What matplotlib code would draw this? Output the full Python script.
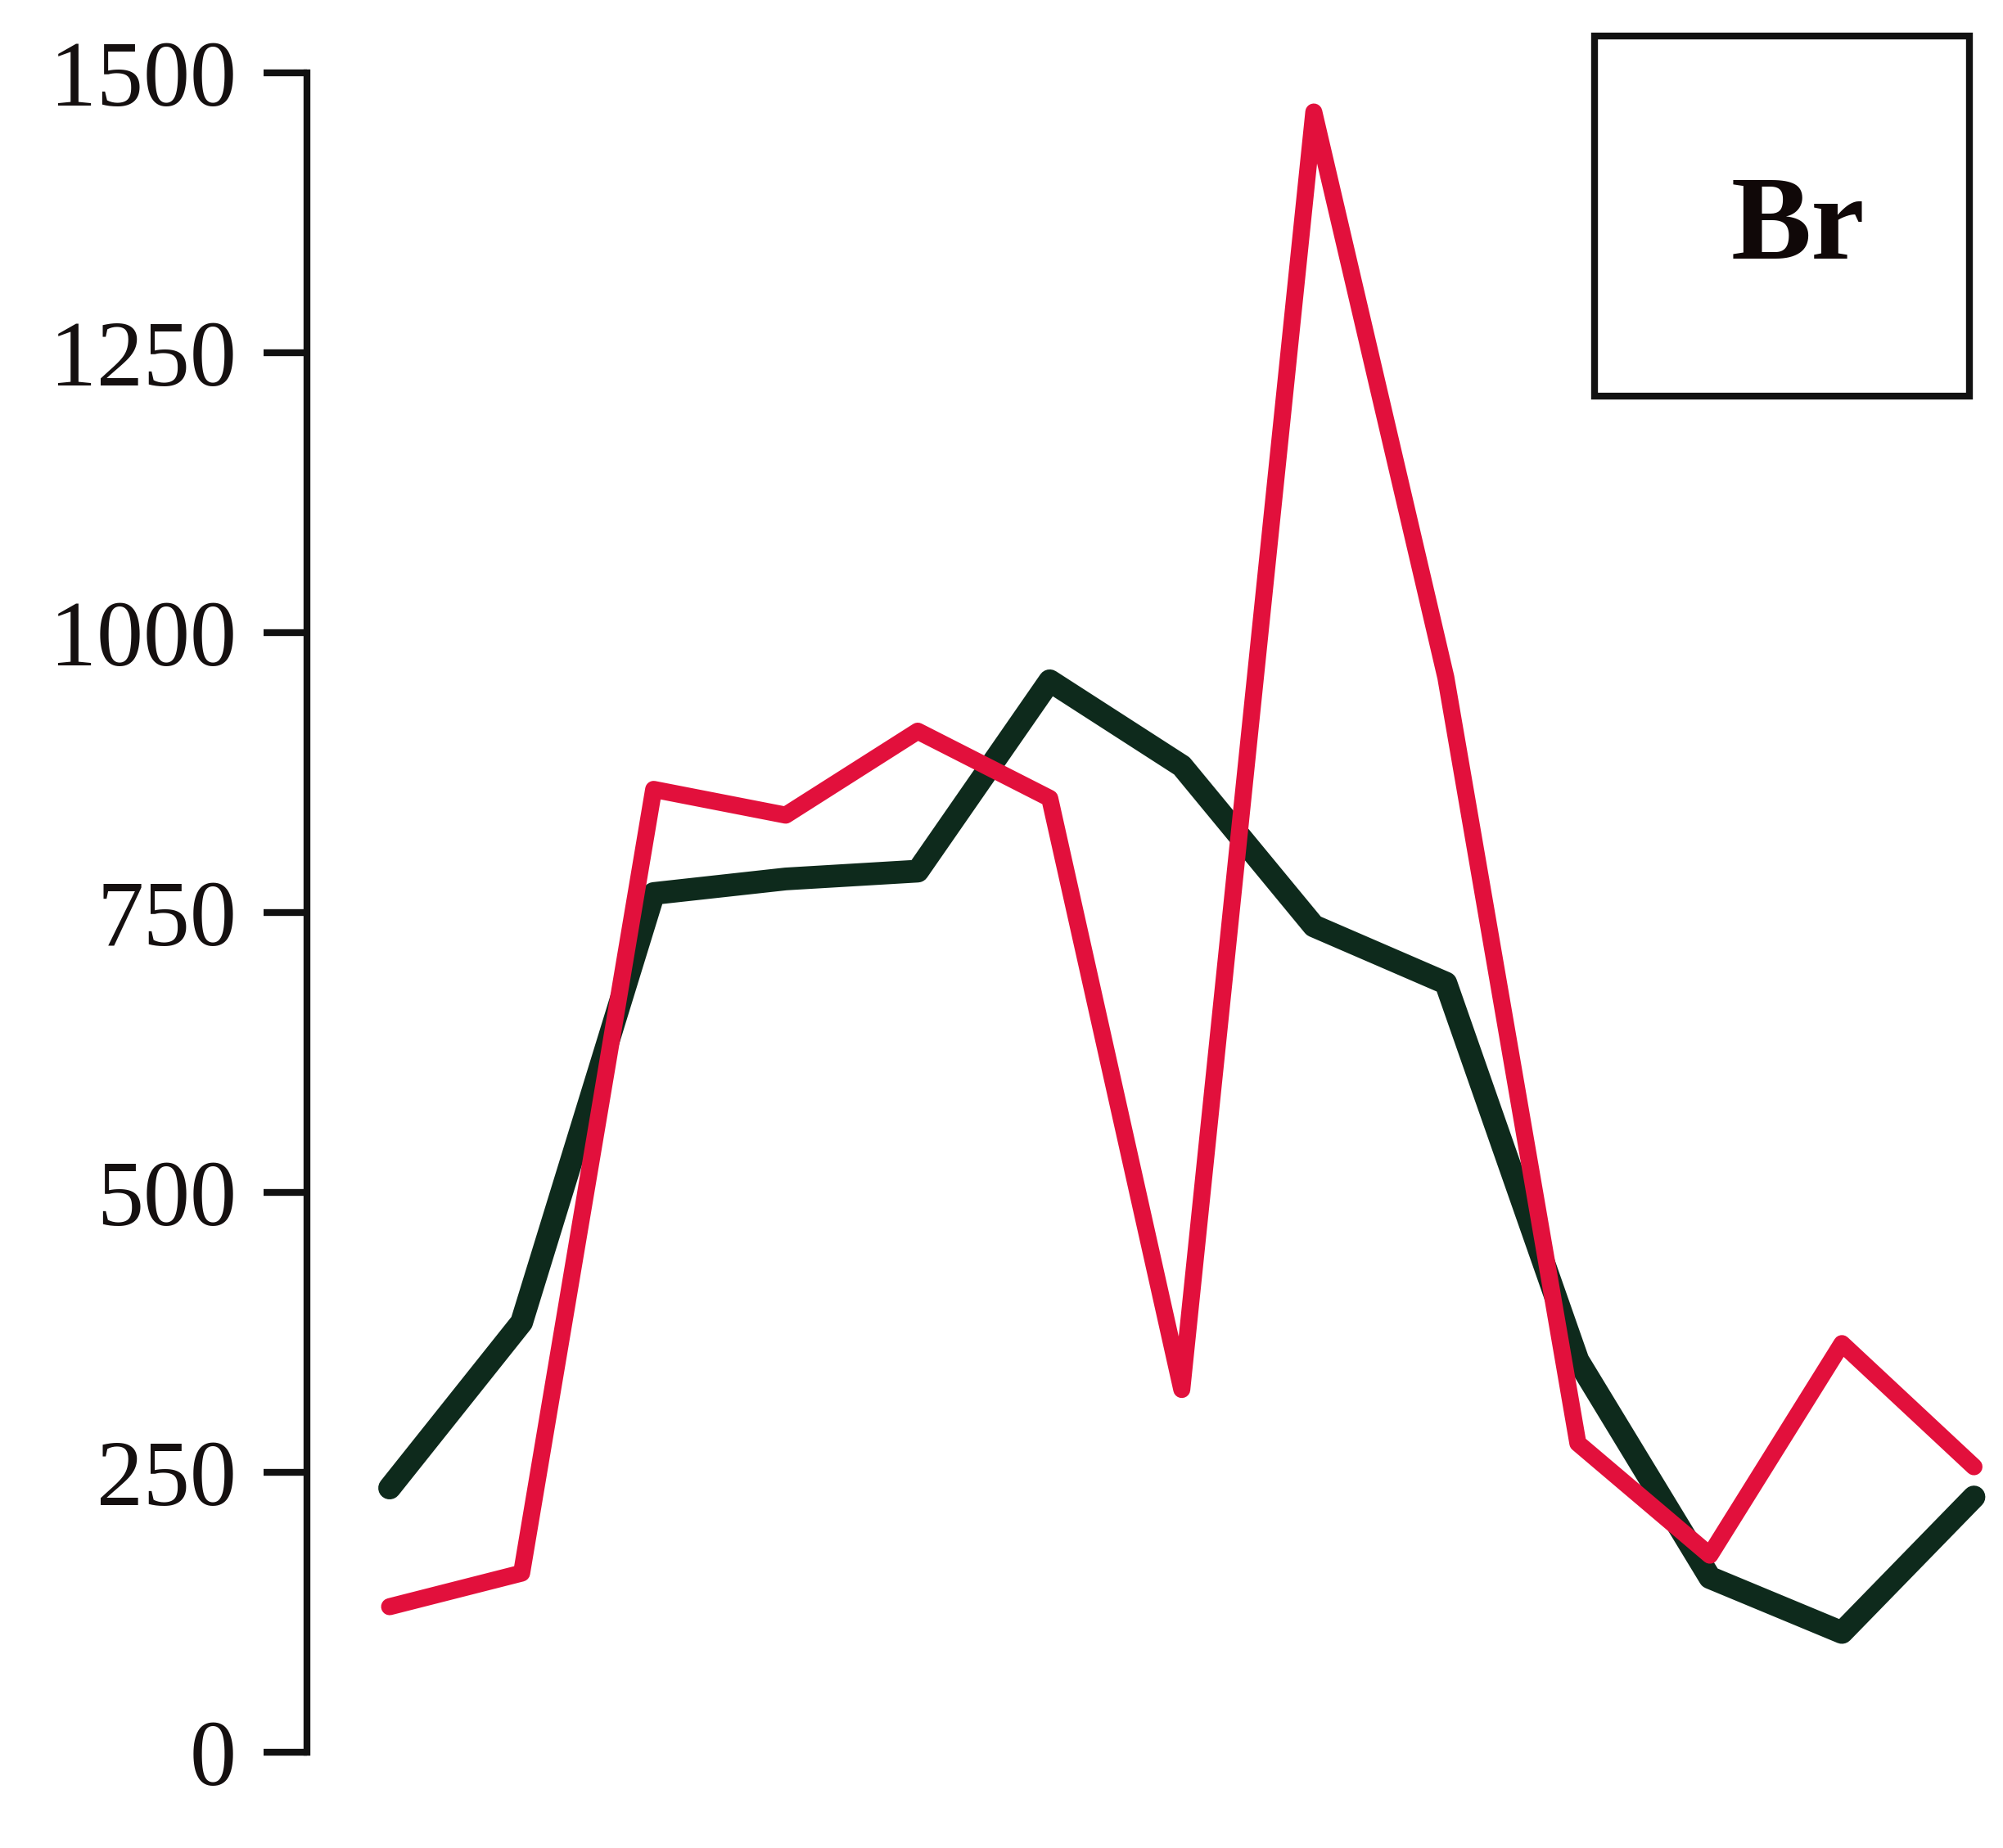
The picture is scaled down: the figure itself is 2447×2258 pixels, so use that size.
import matplotlib
matplotlib.use("Agg")
import matplotlib.pyplot as plt
from matplotlib.patches import Rectangle

# Data
positions = list(range(1, 14))
red_values = [130, 160, 860, 837, 912, 852, 324, 1465, 960, 276, 176, 365, 255]
green_values = [236, 384, 767, 780, 787, 957, 881, 738, 687, 350, 156, 107, 228]
y_ticks = [0, 250, 500, 750, 1000, 1250, 1500]
y_tick_labels = ["0", "250", "500", "750", "1000", "1250", "1500"]
panel_label = "Br"

W, H = 2447, 2258
fig = plt.figure(figsize=(W / 100, H / 100), dpi=100)
fig.patch.set_facecolor("white")

left = 375 / W
bottom = (H - 2141) / H
top = 1 - 89 / H
ax = fig.add_axes([left, bottom, 1 - left, top - bottom])
ax.set_facecolor("none")

ax.plot(positions, red_values, color="#E2103C", lw=15, solid_joinstyle="round",
        solid_capstyle="round", clip_on=False, zorder=3)
ax.plot(positions, green_values, color="#0E2A1C", lw=20, solid_joinstyle="round",
        solid_capstyle="round", clip_on=False, zorder=2)

ax.set_xlim(0.374, 13.22)
ax.set_ylim(0, 1500)
for s in ["top", "right", "bottom"]:
    ax.spines[s].set_visible(False)
ax.spines["left"].set_linewidth(6)
ax.spines["left"].set_color("#111111")
ax.spines["left"].set_capstyle("projecting")
ax.set_xticks([])
ax.set_yticks(y_ticks)
ax.set_yticklabels(y_tick_labels, family="Liberation Serif", fontsize=82, color="#151010")
ax.tick_params(axis="y", length=38, width=6, pad=24, color="#111111")

# Boxed panel label
fig.add_artist(Rectangle((1948 / W, 1 - 484 / H), 458 / W, 440 / H,
                         transform=fig.transFigure, fill=False, lw=6,
                         edgecolor="#111111"))
fig.text(2196 / W, 1 - 280 / H, panel_label, family="Liberation Serif",
         fontweight="bold", fontsize=106, ha="center", va="center", color="#100808")

fig.savefig("out.png", dpi=100, facecolor="white")
